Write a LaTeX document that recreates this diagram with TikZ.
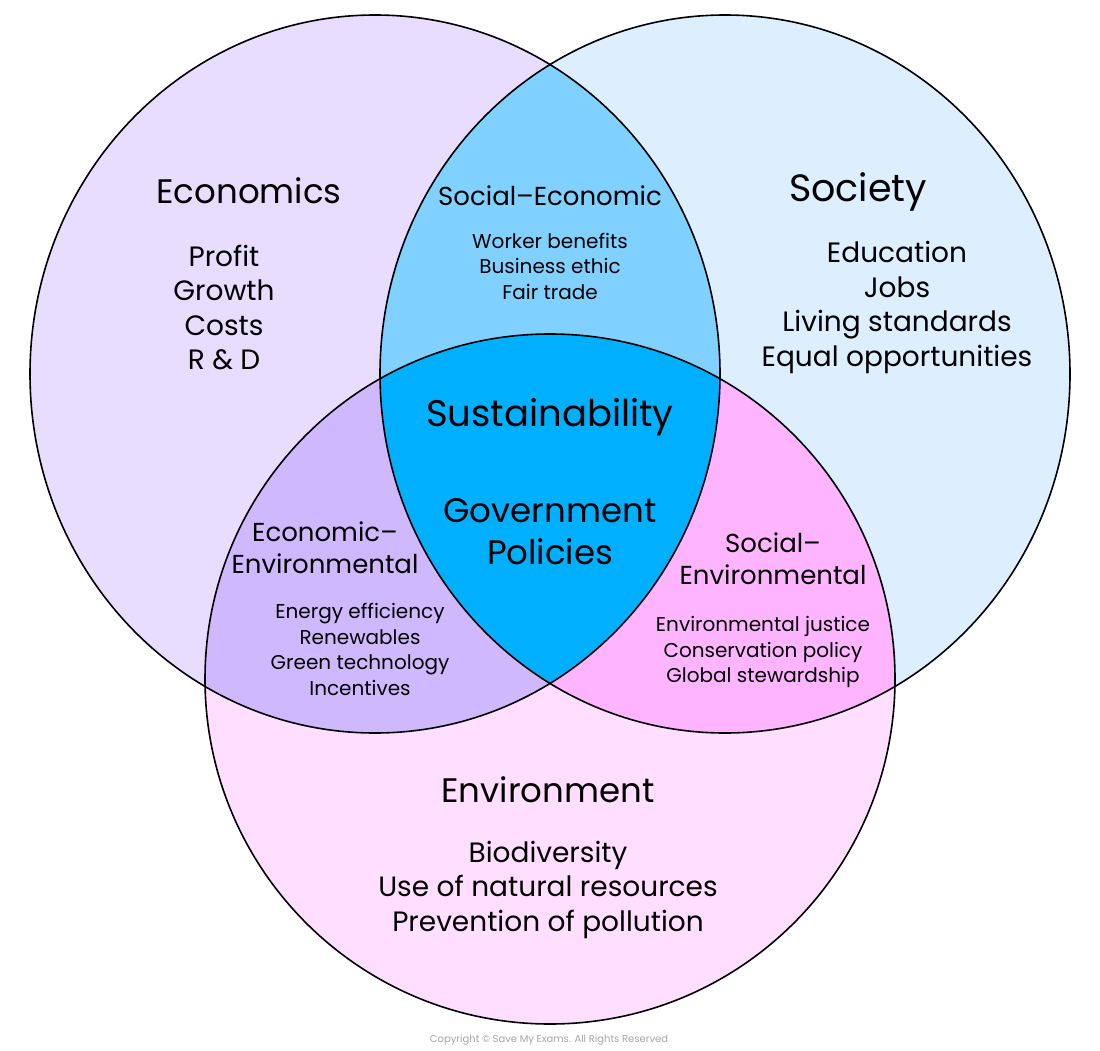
\documentclass[tikz,border=0pt]{standalone}
\usepackage{fontspec}
\setmainfont{Poppins}
\definecolor{econFill}{RGB}{233,221,255}
\definecolor{socFill}{RGB}{221,238,255}
\definecolor{envFill}{RGB}{255,222,255}
\definecolor{econSoc}{RGB}{128,209,255}
\definecolor{econEnv}{RGB}{208,184,255}
\definecolor{socEnv}{RGB}{255,180,255}
\definecolor{allFill}{RGB}{0,176,255}
\tikzset{
  ring/.style = {draw = black, line width = 1.6pt},
  bigtitle/.style = {font = \fontsize{34}{38}\selectfont},
  midtitle/.style = {align = center, font = \fontsize{26}{32}\selectfont},
  bigitems/.style = {align = center, font = \fontsize{28}{34.5}\selectfont},
  smallitems/.style = {align = center, font = \fontsize{20}{25.5}\selectfont}
}
\begin{document}
\begin{tikzpicture}[x = 1pt, y = -1pt]
		\useasboundingbox (0, 0) rectangle (1100, 1051);
		%%%%%%%%%%%%%
		\fill [econFill] (375, 374) ellipse [x radius = 345, y radius = 359];
		\fill [socFill] (725, 374) ellipse [x radius = 345, y radius = 359];
		\fill [envFill] (550, 679) ellipse [x radius = 345, y radius = 345];
		\begin{scope}
			\clip (375, 374) ellipse [x radius = 345, y radius = 359];
			\fill [econSoc] (725, 374) ellipse [x radius = 345, y radius = 359];
			\fill [econEnv] (550, 679) ellipse [x radius = 345, y radius = 345];
		\end{scope}
		\begin{scope}
			\clip (725, 374) ellipse [x radius = 345, y radius = 359];
			\fill [socEnv] (550, 679) ellipse [x radius = 345, y radius = 345];
			\clip (375, 374) ellipse [x radius = 345, y radius = 359];
			\fill [allFill] (550, 679) ellipse [x radius = 345, y radius = 345];
		\end{scope}
		\draw [ring] (375, 374) ellipse [x radius = 345, y radius = 359];
		\draw [ring] (725, 374) ellipse [x radius = 345, y radius = 359];
		\draw [ring] (550, 679) ellipse [x radius = 345, y radius = 345];
		%%%%%%%%%%%%%
		\node [bigtitle] (econ) at (249, 191) {Economics};
		\node [bigitems] (econList) at (224, 307.5) {Profit\\Growth\\Costs\\R \& D};
		\node [bigtitle, font = \fontsize{38}{40}\selectfont] (soc) at (858, 192) {Society};
		\node [bigitems] (socList) at (897, 307.5) {Education\\Jobs\\Living standards\\Equal opportunities};
		\node [bigtitle] (env) at (548, 790) {Environment};
		\node [bigitems] (envList) at (548, 889.5) {Biodiversity\\Use of natural resources\\Prevention of pollution};
		%%%%%%%%%%%%%
		\node [midtitle] (se) at (550, 196) {Social--Economic};
		\node [smallitems] (seList) at (550, 266) {Worker benefits\\Business ethic\\Fair trade};
		\node [midtitle] (ee) at (325, 548) {Economic--\\Environmental};
		\node [smallitems] (eeList) at (360, 649.5) {Energy efficiency\\Renewables\\Green technology\\Incentives};
		\node [midtitle] (sv) at (773, 558.5) {Social--\\Environmental};
		\node [smallitems] (svList) at (763, 652) {Environmental justice\\Conservation policy\\Global stewardship};
		%%%%%%%%%%%%%
		\node [bigtitle, font = \fontsize{37}{40}\selectfont] (sust) at (550, 417) {Sustainability};
		\node [bigtitle, align = center, font = \fontsize{34}{42}\selectfont] (gov) at (550, 532) {Government\\Policies};
		\node [text = black!35, font = \fontsize{10}{12}\selectfont] (copy) at (549, 1040) {Copyright \textcopyright{} Save My Exams. All Rights Reserved};
\end{tikzpicture}
\end{document}
